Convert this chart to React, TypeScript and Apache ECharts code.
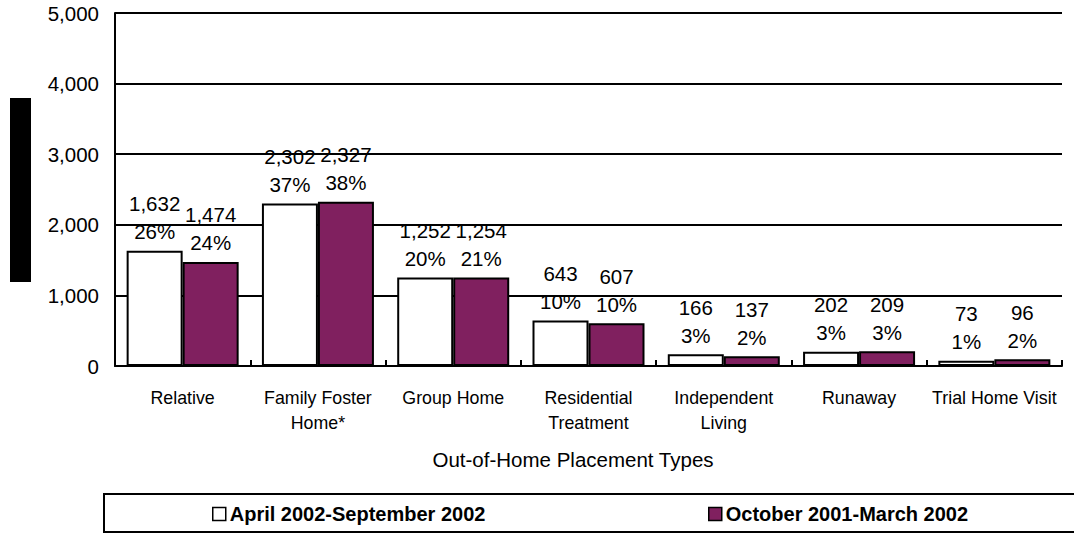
import React, { useEffect, useRef } from "react";
import * as echarts from "echarts";

const categories = [
  "Relative",
  "Family Foster\nHome*",
  "Group Home",
  "Residential\nTreatment",
  "Independent\nLiving",
  "Runaway",
  "Trial Home Visit",
];
const seriesNames = ["April 2002-September 2002", "October 2001-March 2002"];
const aprSepValues = [1632, 2302, 1252, 643, 166, 202, 73];
const aprSepPercents = ["26%", "37%", "20%", "10%", "3%", "3%", "1%"];
const octMarValues = [1474, 2327, 1254, 607, 137, 209, 96];
const octMarPercents = ["24%", "38%", "21%", "10%", "2%", "3%", "2%"];
const yTicks = { min: 0, max: 5000, interval: 1000 };
const xAxisTitle = "Out-of-Home Placement Types";

const FONT = "'Liberation Sans', Arial, sans-serif";
const PURPLE = "#80205F";

const fmt = (v: number) => v.toLocaleString("en-US");

export default function App() {
  const ref = useRef<HTMLDivElement>(null);
  useEffect(() => {
    if (!ref.current) return;
    const chart = echarts.init(ref.current, null, { renderer: "svg" });
    const makeLabel = (pcts: string[]) => ({
      show: true,
      position: "top",
      distance: 5,
      color: "#000",
      fontSize: 20.5,
      fontFamily: FONT,
      lineHeight: 28,
      formatter: (p: any) => `${fmt(p.value)}\n${pcts[p.dataIndex]}`,
    });
    const legendText = {
      fontSize: 20,
      fontWeight: "bold",
      color: "#000",
      fontFamily: FONT,
      padding: [0, 0, 0, -1],
    };
    chart.setOption({
      animation: false,
      textStyle: { fontFamily: FONT, color: "#000" },
      grid: { left: 115, right: 12, top: 13, bottom: 167, containLabel: false },
      xAxis: {
        type: "category",
        data: categories,
        axisLine: { show: true, lineStyle: { color: "#000", width: 2 } },
        axisTick: { show: true, inside: true, length: 6, lineStyle: { color: "#000", width: 2 } },
        axisLabel: {
          color: "#000",
          fontSize: 17.8,
          fontFamily: FONT,
          lineHeight: 25,
          margin: 19,
          interval: 0,
        },
      },
      yAxis: {
        type: "value",
        min: yTicks.min,
        max: yTicks.max,
        interval: yTicks.interval,
        axisLine: { show: true, lineStyle: { color: "#000", width: 2 } },
        axisTick: { show: false },
        splitLine: { show: true, lineStyle: { color: "#000", width: 2 } },
        axisLabel: {
          color: "#000",
          fontSize: 20.5,
          fontFamily: FONT,
          margin: 16,
          formatter: (v: number) => fmt(v),
        },
      },
      legend: [
        {
          data: [seriesNames[0]],
          left: 207,
          top: 499,
          icon: "rect",
          itemWidth: 13,
          itemHeight: 13,
          itemGap: 0,
          textStyle: legendText,
          itemStyle: { color: "#fff", borderColor: "#000", borderWidth: 1.5 },
        },
        {
          data: [seriesNames[1]],
          left: 703,
          top: 499,
          icon: "rect",
          itemWidth: 13,
          itemHeight: 13,
          itemGap: 0,
          textStyle: legendText,
          itemStyle: { color: PURPLE, borderColor: "#000", borderWidth: 1.5 },
        },
      ],
      graphic: [
        {
          type: "rect",
          shape: { x: 10, y: 98, width: 21, height: 184 },
          style: { fill: "#000" },
        },
        {
          type: "rect",
          shape: { x: 104, y: 494, width: 990, height: 38 },
          style: { fill: "none", stroke: "#000", lineWidth: 2 },
        },
        {
          type: "text",
          x: 573,
          y: 459,
          style: {
            text: xAxisTitle,
            fontSize: 20.5,
            fontFamily: FONT,
            fill: "#000",
            textAlign: "center",
            textVerticalAlign: "middle",
          },
        },
      ],
      series: [
        {
          name: seriesNames[0],
          type: "bar",
          data: aprSepValues,
          barWidth: 56,
          barGap: "0%",
          itemStyle: { color: "#fff", borderColor: "#000", borderWidth: 2 },
          label: makeLabel(aprSepPercents),
        },
        {
          name: seriesNames[1],
          type: "bar",
          data: octMarValues,
          barWidth: 56,
          barGap: "0%",
          itemStyle: { color: PURPLE, borderColor: "#000", borderWidth: 2 },
          label: makeLabel(octMarPercents),
        },
      ],
    });
    return () => chart.dispose();
  }, []);
  return (
    <div
      ref={ref}
      style={{ position: "fixed", left: 0, top: 0, width: 1074, height: 533, background: "#fff" }}
    />
  );
}
